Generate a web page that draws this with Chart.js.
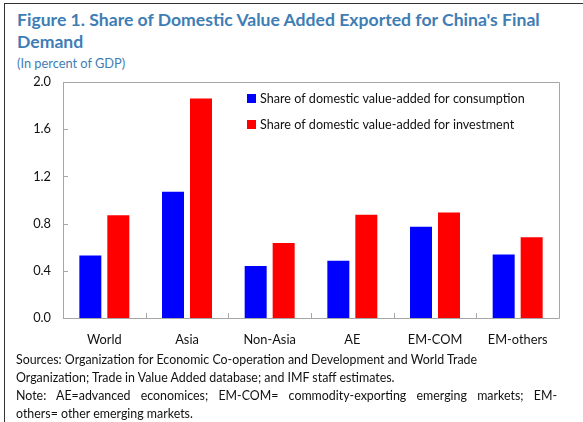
<!DOCTYPE html>
<html>
<head>
<meta charset="utf-8">
<script src="https://cdn.jsdelivr.net/npm/chart.js@4.4.1/dist/chart.umd.min.js"></script>
<style>
html,body{margin:0;padding:0;background:#fff;}
#wrap{position:relative;width:583px;height:422px;overflow:hidden;font-family:Lato,"Open Sans",sans-serif;}
#frame{position:absolute;left:4px;top:3px;width:579px;height:419px;border-left:1.5px solid #333;border-top:1.5px solid #333;box-sizing:border-box;}
#title{position:absolute;left:17px;top:9px;width:545px;font-weight:bold;font-size:17.6px;line-height:22px;color:#3f7db5;}
#sub{position:absolute;left:17px;top:55px;font-size:12.8px;color:#3f7db5;}
#notes{position:absolute;left:16px;top:351px;width:541px;font-size:12.4px;line-height:18px;color:#111;}
#notes div{white-space:nowrap;}
#notes .j{text-align:justify;text-align-last:justify;white-space:normal;}
canvas{position:absolute;left:0;top:0;}
</style>
</head>
<body>
<div id="wrap">
<div id="frame"></div>
<div id="title">Figure 1. Share of Domestic Value Added Exported for China's Final Demand</div>
<div id="sub">(In percent of GDP)</div>
<canvas id="c" width="583" height="422"></canvas>
<div id="notes">
<div>Sources: Organization for Economic Co-operation and Development and World Trade</div>
<div>Organization; Trade in Value Added database; and IMF staff estimates.</div>
<div class="j">Note: AE=advanced economices; EM-COM= commodity-exporting emerging markets; EM-</div>
<div>others= other emerging markets.</div>
</div>
</div>
<script>
const categories = ["World","Asia","Non-Asia","AE","EM-COM","EM-others"];
const consumption = [0.53,1.07,0.44,0.485,0.773,0.538];
const investment = [0.87,1.86,0.635,0.875,0.895,0.685];
const seriesNames = ["Share of domestic value-added for consumption","Share of domestic value-added for investment"];
const yTicks = [0,0.4,0.8,1.2,1.6,2.0];

const FONT = 'Lato, "Open Sans", sans-serif';
const axisColor = '#a6a6a6';
const frameTicks = {
  id:'frameTicks',
  afterDatasetsDraw(chart){
    const {ctx, chartArea:a, scales:{x,y}} = chart;
    ctx.save();
    ctx.strokeStyle = axisColor;
    ctx.lineWidth = 1;
    ctx.beginPath();
    ctx.rect(Math.round(a.left)+0.5, Math.round(a.top)+0.5, Math.round(a.right-a.left), Math.round(a.bottom-a.top));
    yTicks.forEach(v=>{
      const py = Math.round(y.getPixelForValue(v))+0.5;
      ctx.moveTo(a.left, py); ctx.lineTo(a.left+5, py);
    });
    for(let i=1;i<categories.length;i++){
      const px = Math.round((x.getPixelForValue(i-1)+x.getPixelForValue(i))/2)+0.5;
      ctx.moveTo(px, a.bottom); ctx.lineTo(px, a.bottom-5);
    }
    ctx.stroke();
    // legend inside chart area
    ctx.font = '12.6px ' + FONT;
    ctx.textBaseline = 'middle';
    chart.data.datasets.forEach((ds,i)=>{
      const bx = a.left + 184, by = a.top + 16 + i*26;
      ctx.fillStyle = ds.backgroundColor;
      ctx.fillRect(bx, by-4, 9, 9);
      ctx.fillStyle = '#111';
      ctx.fillText(ds.label, bx + 13, by + 0.5);
    });
    ctx.restore();
  }
};

new Chart(document.getElementById('c'), {
  type:'bar',
  data:{
    labels:categories,
    datasets:[
      {label:seriesNames[0], data:consumption, backgroundColor:'#0000ff', borderWidth:0},
      {label:seriesNames[1], data:investment, backgroundColor:'#ff0000', borderWidth:0}
    ]
  },
  options:{
    responsive:false,
    animation:false,
    devicePixelRatio:1,
    layout:{padding:{left:0,top:82,right:24,bottom:0}},
    datasets:{bar:{categoryPercentage:0.677,barPercentage:0.786}},
    plugins:{
      legend:{display:false},
      tooltip:{enabled:false},
      title:{display:false}
    },
    scales:{
      x:{
        grid:{display:false, drawTicks:false},
        border:{display:false},
        ticks:{color:'#111', padding:14, font:{family:FONT, size:12.8}},
        afterFit(s){ s.height = 104; }
      },
      y:{
        min:0, max:2.0,
        afterBuildTicks(s){ s.ticks = yTicks.map(v=>({value:v})); },
        grid:{display:false, drawTicks:false},
        border:{display:false},
        ticks:{color:'#111', padding:12, font:{family:FONT, size:12.8},
               callback:v=>Number(v).toFixed(1)},
        afterFit(s){ s.width = 63; }
      }
    }
  },
  plugins:[frameTicks]
});
</script>
</body>
</html>
